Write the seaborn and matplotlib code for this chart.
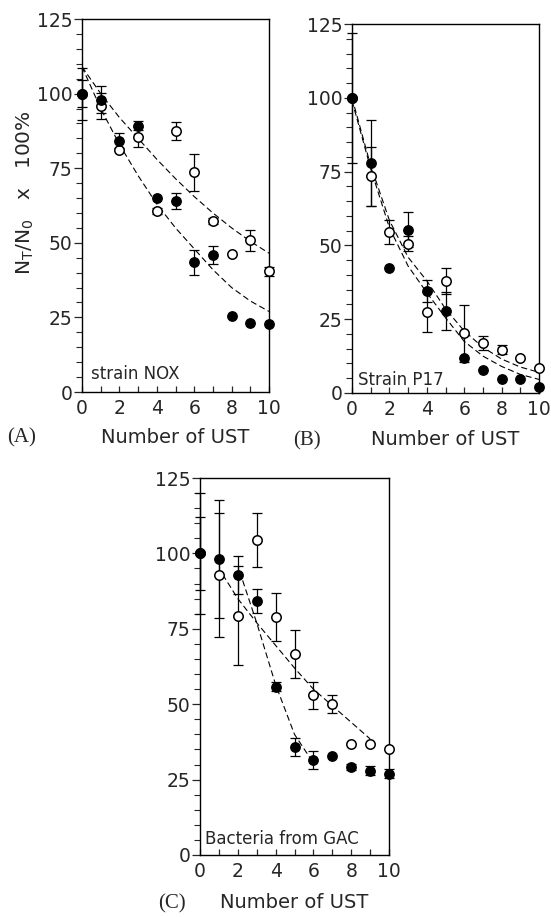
import matplotlib
matplotlib.use("Agg")
import matplotlib.pyplot as plt
from matplotlib.ticker import MultipleLocator
import numpy as np
import pandas as pd
import seaborn as sns

# ---------------- data ----------------
ust = [0, 1, 2, 3, 4, 5, 6, 7, 8, 9, 10]

# Panel A: strain NOX
nox_filled = [100, 98.0, 84.2, 89.3, 65.0, 64.0, 43.5, 46.0, 25.4, 23.2, 22.9]
nox_filled_err = [4.6, 4.6, 2.5, 1.5, 0, 2.8, 4.2, 3.0, 0, 0, 0]
nox_open = [100, 95.8, 81.1, 85.5, 60.8, 87.5, 73.6, 57.3, 46.2, 50.8, 40.4]
nox_open_err = [8.7, 4.3, 0, 3.3, 1.0, 3.0, 6.2, 1.0, 0, 3.4, 1.5]
nox_fit_x = [0, 1, 2, 3, 4, 5, 6, 7, 8, 9, 10]
nox_fit_open = [109, 100, 92, 85, 78, 71.5, 65.5, 60, 55, 50.5, 46.5]
nox_fit_filled = [109, 95, 83, 72.5, 63, 55, 48, 41, 35, 30.5, 27]

# Panel B: strain P17
p17_filled = [100, 78.0, 42.4, 55.3, 34.5, 27.7, 12.0, 7.9, 4.7, 4.7, 2.2]
p17_filled_err = [22, 14.5, 0, 6.0, 3.7, 6.5, 0, 0, 0, 0, 0]
p17_open = [100, 73.4, 54.5, 50.6, 27.5, 38.0, 20.2, 16.9, 14.6, 11.8, 8.4]
p17_open_err = [0, 10.0, 4.0, 2.5, 6.7, 4.4, 9.6, 2.4, 1.5, 0, 0]
p17_fit_x = [0, 1, 2, 3, 4, 5, 6, 7, 8, 9, 10]
p17_fit_open = [100, 77, 58.5, 46, 38, 28.5, 21, 15.5, 11.5, 8.8, 7]
p17_fit_filled = [99, 76, 56, 43, 34, 25.5, 17.5, 12.5, 9, 6.3, 4.6]

# Panel C: bacteria from GAC
gac_filled = [100, 98.1, 92.8, 84.1, 55.8, 35.9, 31.4, 32.8, 29.1, 28.0, 26.9]
gac_filled_err = [12, 19.5, 6.4, 4.0, 1.5, 3.0, 3.0, 0, 1.0, 1.5, 1.5]
gac_open = [100, 92.8, 79.4, 104.4, 78.8, 66.7, 53.0, 50.2, 36.7, 36.7, 35.2]
gac_open_err = [20, 20.5, 16.5, 9.0, 8.0, 8.0, 4.5, 3.0, 0, 0, 0]
gac_fit_open_x = [1.2, 2, 3, 4, 5, 6, 7, 8, 9]
gac_fit_open = [93, 85, 77, 69.5, 62, 55, 49.5, 44, 38.5]
gac_fit_filled_x = [2.1, 3, 4, 5, 6]
gac_fit_filled = [94, 77, 56.5, 40, 30.5]

x_ticks = [0, 2, 4, 6, 8, 10]
y_ticks = [0, 25, 50, 75, 100, 125]

# ---------------- style ----------------
sns.set_style("ticks")
plt.rcParams['font.family'] = ['DejaVu Sans']
plt.rcParams['axes.linewidth'] = 1.0

W, H = 551, 917
fig = plt.figure(figsize=(W / 100, H / 100), dpi=100)


def add_axes(left, right, top, bottom):
    return fig.add_axes([left / W, 1 - bottom / H, (right - left) / W, (bottom - top) / H])


DASH = (0, (5.5, 3))


def panel(ax, filled, ferr, opened, oerr, fits, text, text_xy, xlabelpad):
    for fx, fy in fits:
        sns.lineplot(x=fx, y=fy, ax=ax, color='black', lw=0.8,
                     linestyle=DASH, sort=False, zorder=2)
    for vals, errs in ((filled, ferr), (opened, oerr)):
        xs = [x for x, e in zip(ust, errs) if e > 0]
        ys = [v for v, e in zip(vals, errs) if e > 0]
        es = [e for e in errs if e > 0]
        ax.errorbar(xs, ys, yerr=es, fmt='none', ecolor='black', elinewidth=0.9,
                    capsize=3.3, capthick=0.9, clip_on=False, zorder=3)
    df_o = pd.DataFrame({'x': ust, 'y': opened})
    df_f = pd.DataFrame({'x': ust, 'y': filled})
    sns.scatterplot(data=df_o, x='x', y='y', ax=ax, marker='o', s=46,
                    facecolor='white', edgecolor='black', linewidth=1.1,
                    clip_on=False, zorder=4)
    sns.scatterplot(data=df_f, x='x', y='y', ax=ax, marker='o', s=46,
                    facecolor='black', edgecolor='black', linewidth=1.0,
                    clip_on=False, zorder=5)
    ax.set_xlim(0, 10)
    ax.set_ylim(0, 125)
    ax.set_xticks(x_ticks)
    ax.set_yticks(y_ticks)
    ax.xaxis.set_minor_locator(MultipleLocator(1))
    ax.yaxis.set_minor_locator(MultipleLocator(5))
    ax.tick_params(axis='x', which='both', direction='in', length=4, width=0.9,
                   labelsize=13.5, pad=5)
    ax.tick_params(axis='y', which='major', direction='out', length=6, width=0.9,
                   labelsize=13.5, pad=1)
    ax.tick_params(axis='y', which='minor', direction='out', length=4, width=0.8)
    for s in ax.spines.values():
        s.set_visible(True)
        s.set_color('black')
    ax.set_ylabel('')
    ax.set_xlabel('Number of UST', fontsize=14, labelpad=xlabelpad)
    ax.text(text_xy[0], text_xy[1], text, fontsize=12, va='center', ha='left')


axA = add_axes(82, 269, 19, 392)
panel(axA, nox_filled, nox_filled_err, nox_open, nox_open_err,
      [(nox_fit_x, nox_fit_open), (nox_fit_x, nox_fit_filled)],
      'strain NOX', (0.5, 6), 7)

axB = add_axes(352, 539, 24, 393)
panel(axB, p17_filled, p17_filled_err, p17_open, p17_open_err,
      [(p17_fit_x, p17_fit_open), (p17_fit_x, p17_fit_filled)],
      'Strain P17', (0.3, 4.5), 8)

axC = add_axes(200, 389, 478, 855)
panel(axC, gac_filled, gac_filled_err, gac_open, gac_open_err,
      [(gac_fit_open_x, gac_fit_open), (gac_fit_filled_x, gac_fit_filled)],
      'Bacteria from GAC', (0.25, 5.3), 9)

fig.text(25 / W, 1 - 193 / H, r'N$_\mathregular{T}$/N$_\mathregular{0}$   x   100%',
         rotation=90, ha='center', va='center', fontsize=14.5)

for lab, x, y in (('(A)', 22, 438), ('(B)', 307, 441), ('(C)', 172, 904)):
    fig.text(x / W, 1 - y / H, lab, family=['Liberation Serif', 'DejaVu Serif'],
             fontsize=15, ha='center', va='center')

fig.savefig('out.png', dpi=100, facecolor='white')
